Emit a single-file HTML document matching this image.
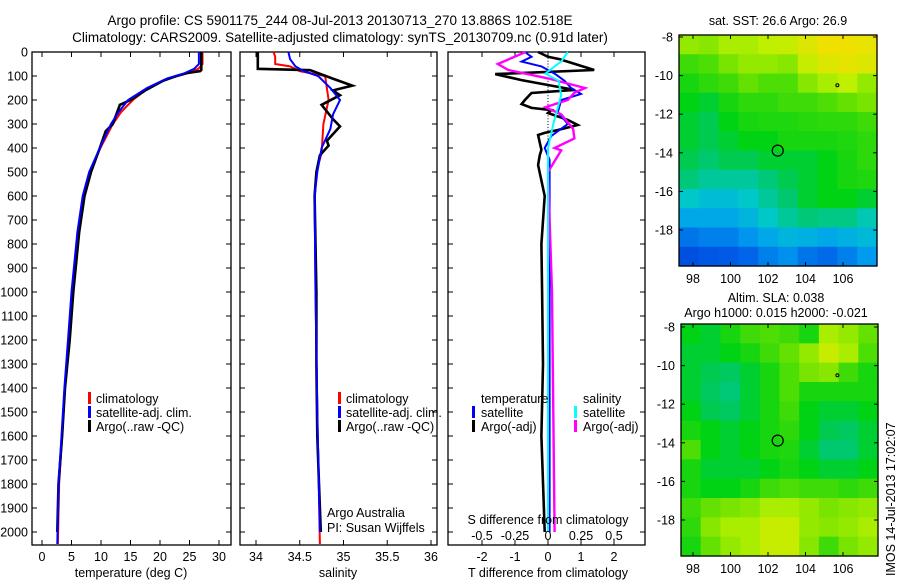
<!DOCTYPE html>
<html><head><meta charset="utf-8"><style>
body{margin:0;background:#fff;}
svg{display:block;font-family:"Liberation Sans",sans-serif;}
</style></head><body>
<svg id="fig" width="900" height="580" viewBox="0 0 900 580" xmlns="http://www.w3.org/2000/svg">
<text x="340" y="25" font-size="13.5" text-anchor="middle">Argo profile: CS 5901175_244 08-Jul-2013 20130713_270 13.886S 102.518E</text>
<text x="340" y="42" font-size="13.5" text-anchor="middle">Climatology: CARS2009. Satellite-adjusted climatology: synTS_20130709.nc (0.91d later)</text>
<g id="g"></g>
</svg>
<script>
// ---------- data ----------
const tDepth=[0,30,75,80,88,100,120,160,200,220,300,330,400,500,600,750,1000,1200,1400,1600,1800,2000];
const tArgo=[27,27,27,26.8,24.5,22.8,20.5,17.5,15,13.2,12,10.8,9.8,8.3,7.2,6.3,5.3,4.7,3.9,3.4,2.8,2.6];
const cDepth=[0,50,70,90,110,150,200,250,300,400,500,600,750,1000,1200,1400,1600,1800,2050];
const tClim=[27.2,27.2,26.5,24.5,21.5,18,15.4,13.4,12,9.9,8.1,7,6.1,5.1,4.5,3.9,3.4,2.9,2.7];
const tSat=[26.6,26.6,25.8,24,21.2,17.8,14.6,13,11.7,9.8,8,6.9,6,5,4.4,3.8,3.3,2.8,2.6];
const sArgoD=[0,70,76,110,140,160,180,220,280,310,370,390,430,500,600,800,1000,1300,1600,1800,2000];
const sArgo=[34.02,34.02,34.62,34.87,35.1,34.88,34.96,34.75,34.88,34.96,34.81,34.83,34.73,34.69,34.67,34.68,34.69,34.69,34.7,34.72,34.74];
const sClimD=[0,20,50,60,80,100,200,300,420,500,600,1000,1500,2050];
const sClim=[34.2,34.22,34.22,34.39,34.5,34.79,34.83,34.77,34.75,34.69,34.67,34.68,34.7,34.73];
const sSatD=[0,30,60,80,100,150,200,260,320,400,500,600,1000,1500,2000];
const sSat=[34.37,34.39,34.45,34.55,34.71,34.85,34.96,34.88,34.85,34.75,34.7,34.67,34.68,34.7,34.73];
const dDepth=[0,20,30,75,92,117,158,171,200,217,233,242,254,283,304,325,337,346,408,429,471,600,800,1000,1300,1600,2000];
const dTArgo=[-0.3,0,0.36,1.4,-1.6,-0.8,0.8,-0.5,-0.7,-0.8,-0.5,0.1,0,0.6,0.9,0.3,-0.1,-0.3,-0.2,-0.25,-0.3,-0.1,-0.2,-0.18,-0.15,-0.2,-0.1];
const dSD=[0,20,40,60,90,120,150,175,200,250,300,350,400,450,600,1000,2000];
const dTSat=[-0.7,-0.5,-0.8,-0.2,0.2,0.5,0.7,1.0,0.4,0.3,0.6,0.1,-0.1,0.05,0.05,0.05,0.05];
const dSArgoD=[0,50,75,110,150,170,200,230,260,320,360,400,410,500,1000,2000];
const dSArgo=[-0.17,-0.38,-0.3,0,0.28,0.2,0.15,-0.02,0.1,0.19,0.2,0.05,0.1,0.0,0.03,0.05];
const dSSatD=[0,40,60,90,120,180,220,300,400,1000,2000];
const dSSat=[0.15,0.1,0.05,-0.02,0.08,0.1,0.08,0.04,0.0,0.0,0.0];
const depthTicks=[0,100,200,300,400,500,600,700,800,900,1000,1100,1200,1300,1400,1500,1600,1700,1800,1900,2000];
const tTicks=[0,5,10,15,20,25,30];
const sTicks=[34,34.5,35,35.5,36];
const dTTicks=[-2,-1,0,1,2];
const dSTicks=[-0.5,-0.25,0,0.25,0.5];
const dSTickLabels=["-0.5","-0.25","0","0.25","0.5"];
const sstGrid=[
[0.72,0.7,0.75,0.75,0.78,0.8,0.85,0.9,0.9,0.88],
[0.6,0.62,0.68,0.72,0.72,0.7,0.8,0.85,0.87,0.85],
[0.55,0.58,0.6,0.65,0.62,0.62,0.7,0.75,0.78,0.72],
[0.52,0.5,0.55,0.58,0.58,0.6,0.6,0.62,0.65,0.68],
[0.5,0.48,0.52,0.55,0.56,0.56,0.57,0.58,0.58,0.6],
[0.5,0.48,0.5,0.52,0.52,0.55,0.55,0.55,0.56,0.58],
[0.48,0.46,0.48,0.48,0.5,0.5,0.5,0.52,0.55,0.58],
[0.45,0.42,0.42,0.42,0.45,0.48,0.5,0.52,0.55,0.56],
[0.38,0.35,0.35,0.38,0.42,0.46,0.5,0.52,0.52,0.5],
[0.3,0.3,0.3,0.33,0.38,0.42,0.45,0.44,0.44,0.4],
[0.2,0.22,0.22,0.26,0.3,0.33,0.32,0.3,0.32,0.34],
[0.12,0.14,0.15,0.17,0.22,0.25,0.2,0.18,0.22,0.27]];
const slaGrid=[
[0.52,0.5,0.55,0.6,0.62,0.6,0.55,0.75,0.72,0.65],
[0.5,0.5,0.52,0.55,0.6,0.65,0.72,0.8,0.75,0.62],
[0.5,0.48,0.47,0.5,0.55,0.62,0.68,0.7,0.6,0.55],
[0.5,0.47,0.45,0.5,0.55,0.62,0.55,0.55,0.55,0.55],
[0.52,0.48,0.47,0.5,0.55,0.6,0.52,0.5,0.5,0.52],
[0.55,0.52,0.5,0.52,0.55,0.58,0.52,0.48,0.47,0.5],
[0.62,0.52,0.5,0.52,0.55,0.56,0.5,0.46,0.46,0.5],
[0.55,0.5,0.5,0.5,0.52,0.55,0.52,0.5,0.5,0.52],
[0.55,0.52,0.52,0.55,0.6,0.62,0.6,0.6,0.58,0.6],
[0.6,0.65,0.68,0.7,0.75,0.75,0.72,0.68,0.7,0.72],
[0.58,0.7,0.75,0.75,0.8,0.8,0.72,0.7,0.72,0.75],
[0.55,0.65,0.72,0.75,0.8,0.8,0.7,0.6,0.68,0.72]];
const lonTicks=[98,100,102,104,106];
const latTicks=[-8,-10,-12,-14,-16,-18];
const argoPos=[102.518,-13.886];
const otherPos=[105.7,-10.5];

// ---------- drawing ----------
const NS="http://www.w3.org/2000/svg";
const G=document.getElementById('g');
function mk(tag,attrs,parent){const e=document.createElementNS(NS,tag);for(const k in attrs)e.setAttribute(k,attrs[k]);(parent||G).appendChild(e);return e;}
const Y0=52,Y1=545;
const yD=d=>Y0+d*0.24;
function lin(v0,p0,v1,p1){return v=>p0+(v-v0)*(p1-p0)/(v1-v0);}

function frame(x0,x1,name,ticksPx){
  const r=mk('rect',{x:x0,y:Y0,width:x1-x0,height:Y1-Y0,fill:'none',stroke:'#000','stroke-width':1.3});
  
  
  depthTicks.forEach(d=>{const y=yD(d);
    mk('line',{x1:x0,x2:x0+5,y1:y,y2:y,stroke:'#000'});
    mk('line',{x1:x1-5,x2:x1,y1:y,y2:y,stroke:'#000'});});
  ticksPx.forEach(x=>{mk('line',{x1:x,x2:x,y1:Y0,y2:Y0+5,stroke:'#000'});mk('line',{x1:x,x2:x,y1:Y1-5,y2:Y1,stroke:'#000'});});
}
function line(xs,ds,fx,color,w,name){
  const pts=xs.map((v,i)=>fx(v).toFixed(1)+','+yD(ds[i]).toFixed(1)).join(' ');
  const p=mk('polyline',{points:pts,fill:'none',stroke:color,'stroke-width':w,'stroke-linejoin':'miter'});
  
  
}
function text(x,y,s,name,opt){
  const t=mk('text',Object.assign({x:x,y:y,'font-size':12.5},opt||{}));t.textContent=s;
  
  
  return t;
}
function legBar(x,y,c){mk('rect',{x:x,y:y-11,width:3,height:12,fill:c});}

depthTicks.forEach(d=>text(28,yD(d)+4.5,String(d),'depth-tick-label',{'text-anchor':'end'}));

const fT=lin(0,42,30,219);
frame(32,231,'temperature-panel',tTicks.map(fT));
tTicks.forEach(v=>text(fT(v),561,String(v),'temp-tick-label',{'text-anchor':'middle'}));
text(131,577,'temperature (deg C)','temperature-axis-title',{'text-anchor':'middle'});
line(tClim,cDepth,fT,'#f00',2,'temp-climatology-line');
line(tArgo,tDepth,fT,'#000',2.6,'temp-argo-line');
line(tSat,cDepth,fT,'#00f',2,'temp-satellite-line');
legBar(88,403,'#f00');text(96,403,'climatology','legend-climatology');
legBar(88,417,'#00f');text(96,417,'satellite-adj. clim.','legend-satellite');
legBar(88,431,'#000');text(96,431,'Argo(..raw -QC)','legend-argo');

const fS=lin(34,256,36,431);
frame(240,437,'salinity-panel',sTicks.map(fS));
sTicks.forEach(v=>text(fS(v),561,String(v),'sal-tick-label',{'text-anchor':'middle'}));
text(338,577,'salinity','salinity-axis-title',{'text-anchor':'middle'});
line(sClim,sClimD,fS,'#f00',2,'sal-climatology-line');
line(sArgo,sArgoD,fS,'#000',2.6,'sal-argo-line');
line(sSat,sSatD,fS,'#00f',2,'sal-satellite-line');
legBar(338,403,'#f00');text(346,403,'climatology','legend-climatology');
legBar(338,417,'#00f');text(346,417,'satellite-adj. clim.','legend-satellite');
legBar(338,431,'#000');text(346,431,'Argo(..raw -QC)','legend-argo');
text(327,517,'Argo Australia','pi-institution');
text(327,532,'PI: Susan Wijffels','pi-name');

const fDT=lin(0,548,2,614);
const fDS=lin(0,548,0.5,614);
frame(448,645,'difference-panel',dTTicks.map(fDT));
for(let d=0;d<=500;d+=12){mk('rect',{x:547.5,y:yD(d),width:1,height:1,fill:'#000'});}
line(dTArgo,dDepth,fDT,'#000',2.6,'tdiff-argo-line');
line(dTSat,dSD,fDT,'#00f',2,'tdiff-satellite-line');
line(dSArgo,dSArgoD,fDS,'#f0f',2.4,'sdiff-argo-line');
line(dSSat,dSSatD,fDS,'#0ff',2,'sdiff-satellite-line');
dTTicks.forEach(v=>text(fDT(v),561,String(v),'tdiff-tick-label',{'text-anchor':'middle'}));
dSTicks.forEach((v,i)=>text(fDS(v),540,dSTickLabels[i],'sdiff-tick-label',{'text-anchor':'middle'}));
text(548,524,'S difference from climatology','sdiff-axis-title',{'text-anchor':'middle'});
text(548,577,'T difference from climatology','tdiff-axis-title',{'text-anchor':'middle'});
text(481,403,'temperature','legend-temperature-header');
legBar(472,417,'#00f');text(481,417,'satellite','legend-t-satellite');
legBar(472,431,'#000');text(481,431,'Argo(-adj)','legend-t-argo');
text(583,403,'salinity','legend-salinity-header');
legBar(574,417,'#0ff');text(583,417,'satellite','legend-s-satellite');
legBar(574,431,'#f0f');text(583,431,'Argo(-adj)','legend-s-argo');

const stops=[[0,[0,40,200]],[0.15,[0,90,230]],[0.28,[0,160,240]],[0.38,[0,200,200]],[0.46,[0,200,110]],[0.52,[0,210,20]],[0.65,[100,225,0]],[0.78,[190,240,0]],[0.9,[240,224,0]],[1,[240,176,0]]];
function cmap(v){for(let i=1;i<stops.length;i++){if(v<=stops[i][0]){const a=stops[i-1],b=stops[i],t=(v-a[0])/(b[0]-a[0]);return 'rgb('+a[1].map((c,k)=>Math.round(c+(b[1][k]-c)*t)).join(',')+')';}}return 'rgb(240,176,0)';}
function map(grid,left,right,top,bottom,lat8y,name){
  const fx=lin(98,693,106,843), fy=lin(-8,lat8y,-18,lat8y+193);
  const rows=grid.length, cols=grid[0].length, cw=(right-left)/cols, ch=(bottom-top)/rows;
  grid.forEach((row,r)=>row.forEach((v,c)=>{
    const cell=mk('rect',{x:(left+c*cw).toFixed(2),y:(top+r*ch).toFixed(2),width:(cw+0.6).toFixed(2),height:(ch+0.6).toFixed(2),fill:cmap(v)});
    
    
  }));
  const fr=mk('rect',{x:left,y:top,width:right-left,height:bottom-top,fill:'none',stroke:'#000','stroke-width':1.3});
  
  
  lonTicks.forEach(v=>{const x=fx(v);mk('line',{x1:x,x2:x,y1:top,y2:top+4,stroke:'#000'});mk('line',{x1:x,x2:x,y1:bottom-4,y2:bottom,stroke:'#000'});
    text(x,bottom+17,String(v),name+'-lon-label',{'text-anchor':'middle'});});
  latTicks.forEach(v=>{const y=fy(v);mk('line',{x1:left,x2:left+4,y1:y,y2:y,stroke:'#000'});mk('line',{x1:right-4,x2:right,y1:y,y2:y,stroke:'#000'});
    text(left-6,y+4.5,String(v),name+'-lat-label',{'text-anchor':'end'});});
  const c=mk('circle',{cx:fx(argoPos[0]),cy:fy(argoPos[1]),r:5.5,fill:'none',stroke:'#000','stroke-width':1.2});
  
  
  const o=mk('circle',{cx:fx(otherPos[0]),cy:fy(otherPos[1]),r:1.5,fill:'none',stroke:'#000','stroke-width':1});
  
  
}
map(sstGrid,679,877,35,266,37,'sst-map');
text(778,25,'sat. SST: 26.6  Argo: 26.9','sst-map-title',{'text-anchor':'middle'});
map(slaGrid,681,878,324,556,327,'sla-map');
text(776,302,'Altim. SLA: 0.038','sla-map-title',{'text-anchor':'middle'});
text(776,317,'Argo h1000: 0.015 h2000: -0.021','sla-map-subtitle',{'text-anchor':'middle'});
text(0,0,'IMOS 14-Jul-2013 17:02:07','timestamp',{transform:'translate(895,576) rotate(-90)','font-size':12.5});
</script>
</body></html>
